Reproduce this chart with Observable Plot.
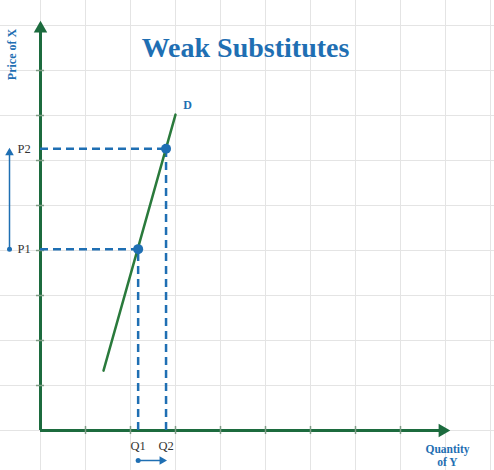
<!DOCTYPE html>
<html><head><meta charset="utf-8">
<script src="https://cdn.jsdelivr.net/npm/d3@7"></script>
<script src="https://cdn.jsdelivr.net/npm/@observablehq/plot@0.6"></script>
<style>body{margin:0;background:#fff} svg{display:block}</style>
</head><body><div id="chart"></div>
<script>
// ---- data (in grid-cell units) ----
const title = "Weak Substitutes";
const yAxisLabel = "Price of X";
const xAxisLabel = "Quantity\nof Y";
const demandLabel = "D";
const demandQ = [1.4, 3.0];
const demandP = [1.33, 7.02];
const pointLabels = ["1", "2"];
const pointQ = [2.17, 2.79];
const pointP = [4.03, 6.26];
const gridSteps = d3.range(0, 11);
const tickSteps = d3.range(1, 9);
const axisMax = [9];

const demand = demandQ.map((q, i) => ({q, p: demandP[i]}));
const points = pointQ.map((q, i) => ({q, p: pointP[i], label: pointLabels[i]}));

const blue = "#1f6fb3";
const axisGreen = "#1c6b3e";
const lineGreen = "#2a7a3c";
const serif = "Liberation Serif";

const chart = Plot.plot({
  width: 494,
  height: 470,
  margin: 0,
  x: {domain: [-40/45, 454/45], axis: null},
  y: {domain: [-40/45, 430/45], axis: null},
  style: {background: "#fff"},
  marks: [
    // background grid
    Plot.ruleX(gridSteps, {stroke: "#e4e4e4", strokeWidth: 1}),
    Plot.ruleY(d3.range(0, 10), {stroke: "#e4e4e4", strokeWidth: 1}),
    // axes
    Plot.ruleY([0], {x1: 0, x2: axisMax[0], stroke: axisGreen, strokeWidth: 3}),
    Plot.ruleX([0], {y1: 0, y2: axisMax[0], stroke: axisGreen, strokeWidth: 3}),
    Plot.dot(axisMax, {x: d => d, y: 0, symbol: "triangle", r: 5, fill: axisGreen, rotate: 90, dx: -3}),
    Plot.dot(axisMax, {x: 0, y: d => d, symbol: "triangle", r: 5, fill: axisGreen, dy: 3}),
    // axis ticks
    Plot.ruleX(tickSteps, {y1: -0.09, y2: 0.09, stroke: "#7f9c86", strokeWidth: 1.5}),
    Plot.ruleY(tickSteps, {x1: -0.09, x2: 0.09, stroke: "#7f9c86", strokeWidth: 1.5}),
    // dashed guides
    Plot.ruleY(points, {y: "p", x1: 0, x2: "q", stroke: blue, strokeWidth: 2.5, strokeDasharray: "8,5"}),
    Plot.ruleX(points, {x: "q", y1: 0, y2: "p", stroke: blue, strokeWidth: 2.5, strokeDasharray: "8,5"}),
    // demand curve
    Plot.line(demand, {x: "q", y: "p", stroke: lineGreen, strokeWidth: 2.5}),
    Plot.dot(points, {x: "q", y: "p", r: 5, fill: blue}),
    Plot.text(demand.slice(-1), {x: "q", y: "p", text: () => demandLabel, dx: 12, dy: -9,
      fill: blue, fontWeight: "bold", fontSize: 12, fontFamily: serif}),
    // price labels
    Plot.text(points, {y: "p", text: d => "P" + d.label, frameAnchor: "left", dx: 17, textAnchor: "start",
      lineAnchor: "middle", fill: "#333", fontSize: 12.5, fontFamily: serif}),
    // quantity labels
    Plot.text(points, {x: "q", text: d => "Q" + d.label, frameAnchor: "bottom", dy: -25, lineAnchor: "middle",
      fill: "#333", fontSize: 12.5, fontFamily: serif}),
    // price change arrow
    Plot.ruleX([0], {y1: pointP[0], y2: pointP[1] - 0.1, dx: -31, stroke: blue, strokeWidth: 1.5}),
    Plot.dot([0], {x: 0, y: pointP[0], dx: -31, r: 2.5, fill: blue}),
    Plot.dot([0], {x: 0, y: pointP[1], dx: -31, dy: 4, r: 3.2, symbol: "triangle", fill: blue}),
    // quantity change arrow
    Plot.ruleY([0], {x1: pointQ[0], x2: pointQ[1] - 0.1, dy: 30, stroke: blue, strokeWidth: 1.5}),
    Plot.dot([0], {x: pointQ[0], y: 0, dy: 30, r: 2.5, fill: blue}),
    Plot.dot([0], {x: pointQ[1], y: 0, dy: 30, dx: -4, r: 3.2, symbol: "triangle", rotate: 90, fill: blue}),
    // axis titles
    Plot.text([yAxisLabel], {frameAnchor: "top-left", dx: 12, dy: 54, rotate: -90, text: d => d,
      textAnchor: "middle", lineAnchor: "middle",
      fill: blue, fontWeight: "bold", fontSize: 12, fontFamily: serif}),
    Plot.text([xAxisLabel], {x: () => axisMax[0], text: d => d, frameAnchor: "bottom", dy: -15, lineHeight: 1.1,
      lineAnchor: "middle", dx: 2, fill: blue, fontWeight: "bold", fontSize: 11.5, fontFamily: serif}),
    // title
    Plot.text([title], {frameAnchor: "top", dy: 48, dx: -2, text: d => d, lineAnchor: "middle",
      fill: blue, fontWeight: "bold", fontSize: 28, fontFamily: serif})
  ]
});
document.getElementById("chart").append(chart);
</script>
</body></html>
